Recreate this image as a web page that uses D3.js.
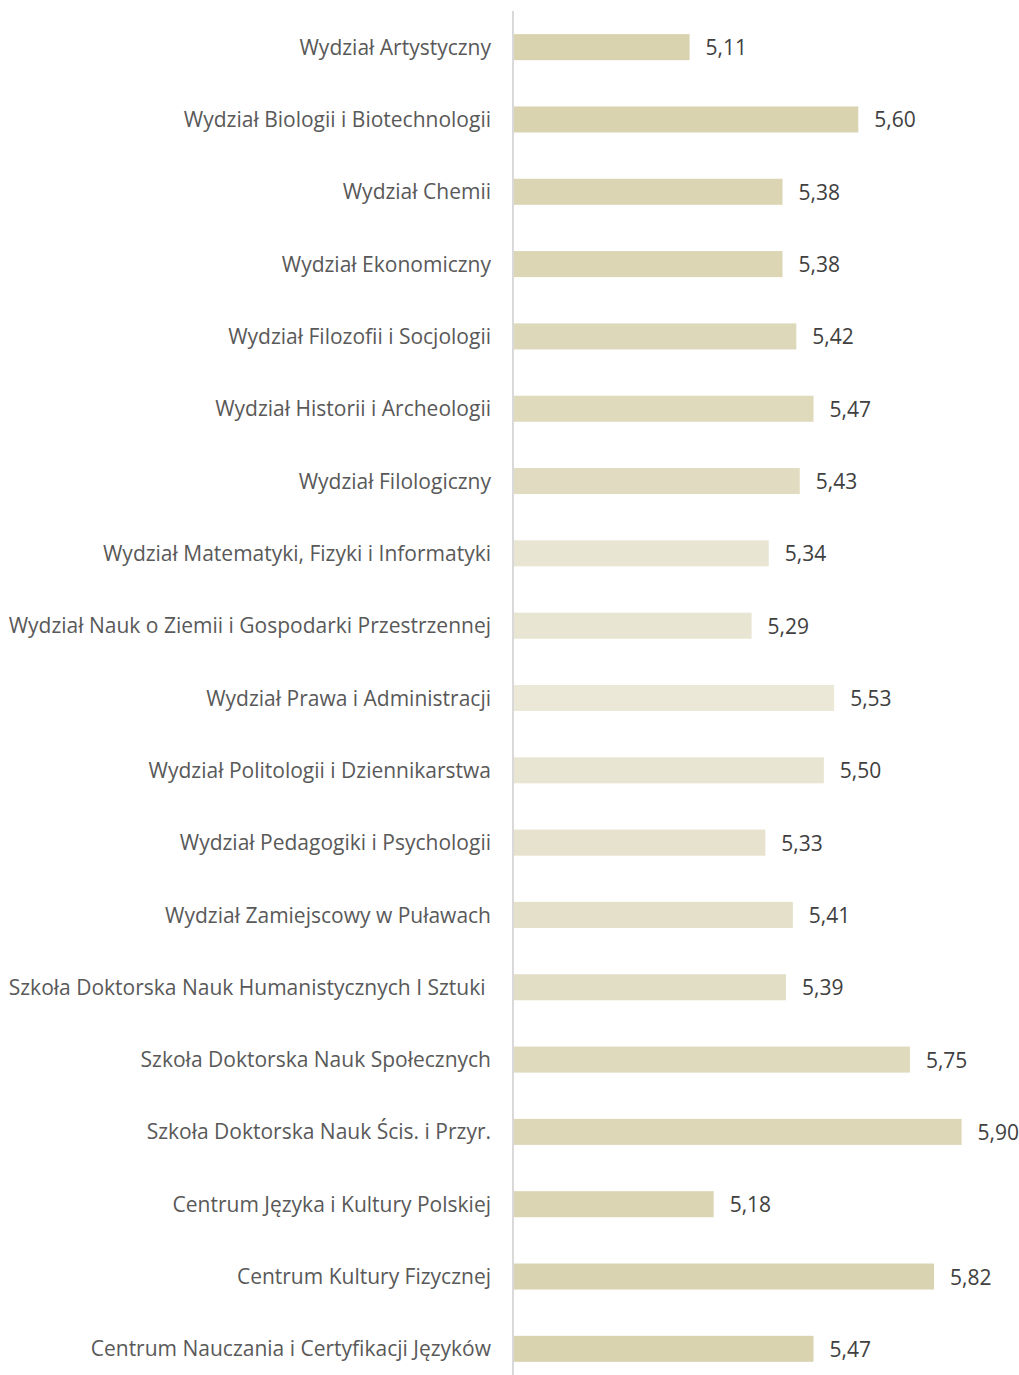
<!DOCTYPE html>
<html>
<head>
<meta charset="utf-8">
<script src="https://cdn.jsdelivr.net/npm/d3@7"></script>
<style>
  body { margin: 0; background: #fff; }
  text { font-family: "Open Sans", Lato, sans-serif; }
</style>
</head>
<body>
<div id="chart"></div>
<script>
// data
const categories = [
  "Wydział Artystyczny",
  "Wydział Biologii i Biotechnologii",
  "Wydział Chemii",
  "Wydział Ekonomiczny",
  "Wydział Filozofii i Socjologii",
  "Wydział Historii i Archeologii",
  "Wydział Filologiczny",
  "Wydział Matematyki, Fizyki i Informatyki",
  "Wydział Nauk o Ziemii i Gospodarki Przestrzennej",
  "Wydział Prawa i Administracji",
  "Wydział Politologii i Dziennikarstwa",
  "Wydział Pedagogiki i Psychologii",
  "Wydział Zamiejscowy w Puławach",
  "Szkoła Doktorska Nauk Humanistycznych I Sztuki ",
  "Szkoła Doktorska Nauk Społecznych",
  "Szkoła Doktorska Nauk Ścis. i Przyr.",
  "Centrum Języka i Kultury Polskiej",
  "Centrum Kultury Fizycznej",
  "Centrum Nauczania i Certyfikacji Języków"
]
const values = [5.11, 5.60, 5.38, 5.38, 5.42, 5.47, 5.43, 5.34, 5.29, 5.53, 5.50, 5.33, 5.41, 5.39, 5.75, 5.90, 5.18, 5.82, 5.47]
const barColors = [
  "#d9d3b0", "#d9d3b0", "#dbd5b3", "#dcd6b5", "#ddd8b9", "#dfdabc", "#e1dcc1",
  "#e8e5d3", "#e8e5d3", "#ebe8d8", "#e8e5d3", "#e6e2cd", "#e4e0c9", "#e2ddc5",
  "#dfd9bd", "#ddd7b8", "#dbd5b4", "#d9d3b1", "#d9d3b0"
]

const W = 1019, H = 1375
const margin = { top: 11, right: 20, bottom: 0, left: 514 }

const svg = d3.select("#chart").append("svg")
    .attr("width", W)
    .attr("height", H)
  .append("g")
    .attr("transform", "translate(" + margin.left + "," + margin.top + ")")

const data = categories.map((c, i) => ({ name: c, value: values[i], color: barColors[i] }))

const x = d3.scaleLinear()
  .domain([4.6, 6.0])
  .range([0, 482])

const y = d3.scaleBand()
  .domain(categories)
  .range([0, 1374])
  .paddingInner(0.64)
  .paddingOuter(0.32)

svg.selectAll("rect.bar")
  .data(data)
  .join("rect")
    .attr("class", "bar")
    .attr("x", 0)
    .attr("y", d => y(d.name))
    .attr("width", d => x(d.value))
    .attr("height", y.bandwidth())
    .attr("fill", d => d.color)

// value labels
svg.selectAll("text.val")
  .data(data)
  .join("text")
    .attr("class", "val")
    .attr("x", d => x(d.value) + 16)
    .attr("y", d => y(d.name) + y.bandwidth() / 2)
    .attr("dy", "0.38em")
    .attr("font-size", 21)
    .attr("fill", "#404040")
    .text(d => d3.format(".2f")(d.value).replace(".", ","))

// category labels
svg.selectAll("text.cat")
  .data(data)
  .join("text")
    .attr("class", "cat")
    .attr("x", -23)
    .attr("y", d => y(d.name) + y.bandwidth() / 2)
    .attr("dy", "0.36em")
    .attr("text-anchor", "end")
    .attr("font-size", 21)
    .attr("fill", "#595959")
    .style("white-space", "pre")
    .text(d => d.name)

// vertical axis line
svg.append("line")
  .attr("x1", -1).attr("x2", -1)
  .attr("y1", 0).attr("y2", H - margin.top)
  .attr("stroke", "#d9d9d9")
  .attr("stroke-width", 2)
</script>
</body>
</html>
